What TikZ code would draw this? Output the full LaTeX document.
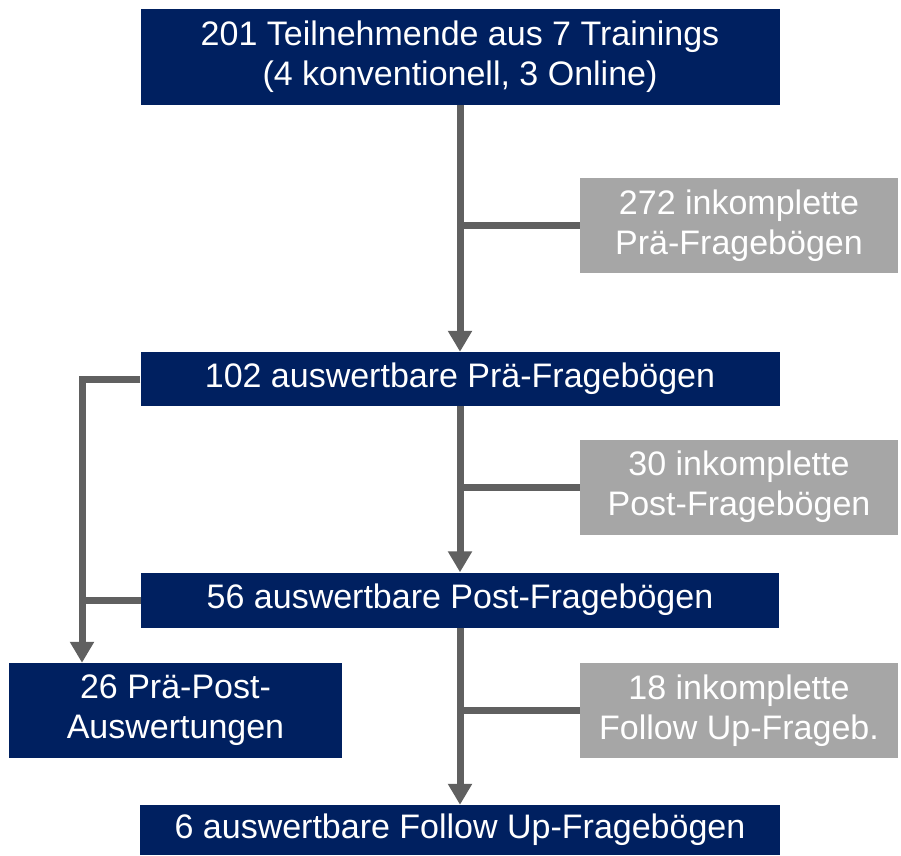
\documentclass[tikz,border=0pt]{standalone}
\usepackage{fontspec}
\setmainfont{Liberation Sans}
\usepackage{xcolor}
\usetikzlibrary{arrows.meta, positioning}
\definecolor{navy}{HTML}{002060}
\definecolor{grau}{HTML}{A6A6A6}
\definecolor{pfeil}{HTML}{606060}

\begin{document}
\begin{tikzpicture}[x=1pt, y=-1pt]
\tikzstyle{stufe} = [rectangle, fill=navy, text=white, align=center, inner sep=0pt, font=\fontsize{34}{40}\selectfont]
\tikzstyle{verlust} = [rectangle, fill=grau, text=white, align=center, inner sep=0pt, minimum width=318pt, minimum height=95pt, font=\fontsize{34}{40}\selectfont]
\tikzstyle{fluss} = [line width=7pt, draw=pfeil, -{Triangle[width=23pt, length=21pt]}]
\tikzstyle{ast} = [line width=7pt, draw=pfeil]

\useasboundingbox (0,0) rectangle (901,855);

% Hauptstrang
\node (teilnehmende) [stufe, minimum width=639pt, minimum height=96pt] at (460,57) {201 Teilnehmende aus 7 Trainings\\(4 konventionell, 3 Online)};
\node (prae) [stufe, minimum width=639pt, minimum height=54pt] at (460,379) {102 auswertbare Prä-Fragebögen};
\node (post) [stufe, minimum width=638pt, minimum height=55pt] at (460,600) {56 auswertbare Post-Fragebögen};
\node (followup) [stufe, minimum width=640pt, minimum height=50pt] at (460,830) {6 auswertbare Follow Up-Fragebögen};
\node (praepost) [stufe, minimum width=333pt, minimum height=95pt] at (175.5,710.5) {26 Prä-Post-\\Auswertungen};

% Ausfaelle
\node (inkPrae) [verlust] at (739,225.5) {272 inkomplette\\Prä-Fragebögen};
\node (inkPost) [verlust] at (739,487) {30 inkomplette\\Post-Fragebögen};
\node (inkFollow) [verlust] at (739,710.5) {18 inkomplette\\Follow Up-Frageb.};

\coordinate (knick) at (82,379);

\draw [fluss] (teilnehmende.south) -- (prae.north);
\draw [fluss] (prae.south) -- (post.north);
\draw [fluss] (post.south) -- (followup.north);
\draw [ast] (inkPrae.west) -- (inkPrae.west -| prae.south);
\draw [ast] (inkPost.west) -- (inkPost.west -| prae.south);
\draw [ast] (inkFollow.west) -- (inkFollow.west -| post.south);

\draw [fluss] (prae.west) -- (knick) -- (knick |- praepost.north);
\draw [ast] (post.west) -- (post.west -| knick);

\end{tikzpicture}
\end{document}
